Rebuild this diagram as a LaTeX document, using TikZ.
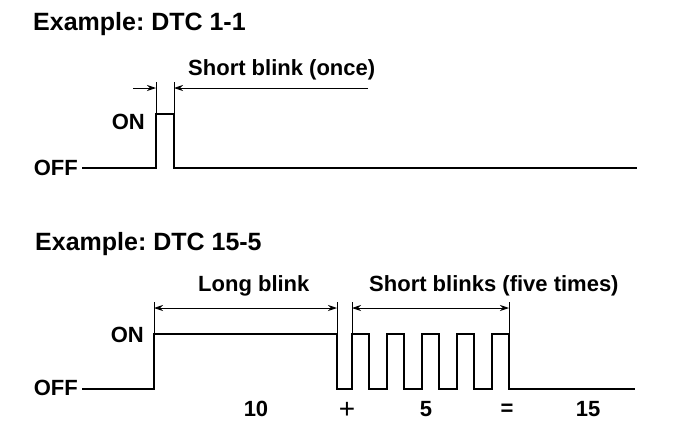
\documentclass[tikz,border=0pt]{standalone}
\usepackage{fontspec}
\setmainfont{Liberation Sans}
\usetikzlibrary{arrows.meta}
\frenchspacing

\begin{document}
\begin{tikzpicture}[
  x=1pt, y=-1pt,
  font=\fontsize{22}{24}\selectfont\bfseries,
  lbl/.style={inner sep=0pt, anchor=base west},
  head/.style={lbl, font=\fontsize{25}{27}\selectfont\bfseries},
  lvl/.style={inner sep=0pt, anchor=east},
  num/.style={inner sep=0pt},
  sig/.style={line width=2.8pt, line join=miter},
  ext/.style={line width=0.9pt},
  dim/.style={line width=0.9pt},
  >={Stealth[length=9pt,width=6pt]}
]
\useasboundingbox (0,0) rectangle (688,442);

% Row 1: DTC 1-1
\node[head] (h1) at (33,30)  {Example: DTC 1-1};
\node[lbl] (s1) at (188,75) {Short blink (once)};
\node[lvl] (on1)  at (145,122) {ON};
\node[lvl] (off1) at (78,168)  {OFF};
\draw[sig] (82,168) -- (156,168) -- (156,114) -- (174,114) -- (174,168) -- (637,168);
\coordinate (a1) at (156,88);
\coordinate (b1) at (174,88);
\draw[ext] (156,82) -- (156,114);
\draw[ext] (174,82) -- (174,114);
\draw[dim,->] (133,88) -- (a1);
\draw[dim,->] (368,88) -- (b1);

% Row 2: DTC 15-5
\node[head] (h2) at (35,250)  {Example: DTC 15-5};
\node[lbl] (l2) at (198,291) {Long blink};
\node[lbl] (s2) at (369,291) {Short blinks (five times)};
\node[lvl] (on2)  at (144,335) {ON};
\node[lvl] (off2) at (78,388)  {OFF};
\draw[sig] (82,389) -- (154,389) -- (154,334) -- (337,334) -- (337,389)
  foreach \i in {0,...,4} {
    -- ({352+35*\i},389) -- ({352+35*\i},334) -- ({369+35*\i},334) -- ({369+35*\i},389)
  } -- (635,389);
\coordinate (a2) at (154,308);
\coordinate (b2) at (337,308);
\coordinate (c2) at (352,308);
\coordinate (d2) at (509,308);
\foreach \x in {154,337,352,509}
  \draw[ext] (\x,302) -- (\x,334);
\draw[dim,<->] (a2) -- (b2);
\draw[dim,<->] (c2) -- (d2);

% sum
\node[num] (n10) at (256,409) {10};
\node[num] (plus) at (347,410) {\fontsize{28}{28}\selectfont\mdseries +};
\node[num] (n5) at (426,409) {5};
\node[num] (eq) at (507,410) {=};
\node[num] (n15) at (588,409) {15};
\end{tikzpicture}
\end{document}
